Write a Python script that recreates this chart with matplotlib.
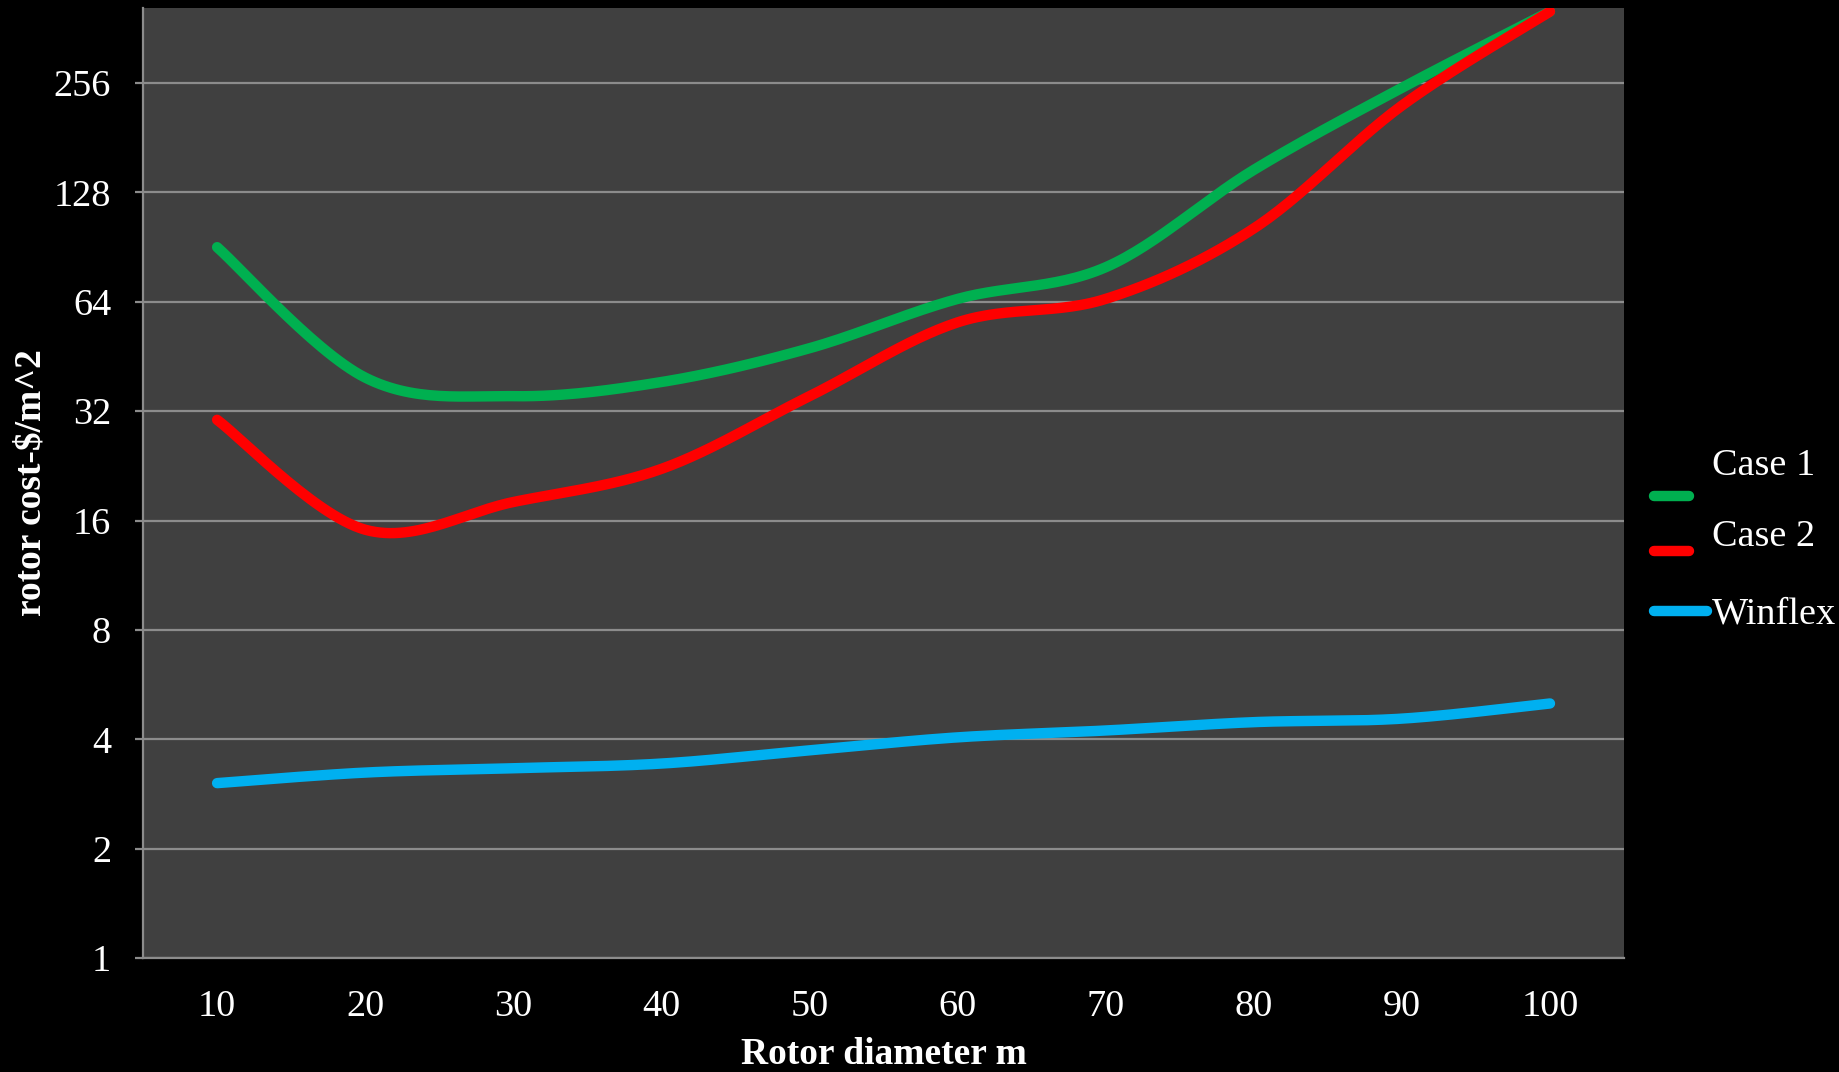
import numpy as np
import matplotlib
matplotlib.use("Agg")
import matplotlib.pyplot as plt
from matplotlib.lines import Line2D

# Rotor cost per swept area
diameters = [10, 20, 30, 40, 50, 60, 70, 80, 90, 100]
case1 = [90.5, 39.6, 35.2, 38.5, 47.7, 65.2, 79.7, 147.7, 248.5, 403.0]
case2 = [30.3, 15.1, 18.0, 22.2, 35.2, 56.2, 65.2, 101.9, 222.0, 403.0]
winflex = [3.03, 3.24, 3.33, 3.43, 3.73, 4.05, 4.23, 4.46, 4.56, 5.02]
y_ticks = [1, 2, 4, 8, 16, 32, 64, 128, 256]

series_names = ["Case 1", "Case 2", "Winflex"]
series_colors = ["#00B050", "#FF0000", "#00B0F0"]


def smooth(xs, ys, n=30):
    # Excel-style smoothed line: Catmull-Rom in (x, log2 y) space
    xs = np.asarray(xs, dtype=float)
    ly = np.log2(np.asarray(ys, dtype=float))
    px = np.concatenate([[xs[0]], xs, [xs[-1]]])
    py = np.concatenate([[ly[0]], ly, [ly[-1]]])
    out_x, out_y = [], []
    t = np.linspace(0, 1, n, endpoint=False)
    for i in range(1, len(px) - 2):
        x0, x1, x2, x3 = px[i - 1:i + 3]
        y0, y1, y2, y3 = py[i - 1:i + 3]
        # bezier control points
        cx1, cy1 = x1 + (x2 - x0) / 6, y1 + (y2 - y0) / 6
        cx2, cy2 = x2 - (x3 - x1) / 6, y2 - (y3 - y1) / 6
        bx = (1 - t) ** 3 * x1 + 3 * (1 - t) ** 2 * t * cx1 + 3 * (1 - t) * t ** 2 * cx2 + t ** 3 * x2
        by = (1 - t) ** 3 * y1 + 3 * (1 - t) ** 2 * t * cy1 + 3 * (1 - t) * t ** 2 * cy2 + t ** 3 * y2
        out_x.extend(bx)
        out_y.extend(by)
    out_x.append(xs[-1])
    out_y.append(ly[-1])
    return np.array(out_x), 2 ** np.array(out_y)


plt.rcParams["font.family"] = ["Liberation Serif", "DejaVu Serif"]

fig = plt.figure(figsize=(18.39, 10.72), dpi=100, facecolor="black")
ax = fig.add_axes([0.0778, 0.1063, 0.8053, 0.8862])
ax.set_facecolor("#404040")

x_idx = np.arange(1, len(diameters) + 1)
for vals, color in zip([case1, case2, winflex], series_colors):
    sx, sy = smooth(x_idx, vals)
    ax.plot(sx, sy, color=color, linewidth=7.5, solid_capstyle="round", zorder=3)

ax.set_yscale("log", base=2)
ax.set_ylim(1, 412)
ax.set_xlim(0.5, len(diameters) + 0.5)
ax.set_yticks(y_ticks)
ax.set_yticklabels([str(v) for v in y_ticks])
ax.yaxis.set_minor_locator(matplotlib.ticker.NullLocator())
ax.set_xticks(x_idx)
ax.set_xticklabels([str(d) for d in diameters])

ax.grid(axis="y", color="#8c8c8c", linewidth=1.6, zorder=1)
for side in ["top", "right"]:
    ax.spines[side].set_visible(False)
for side in ["left", "bottom"]:
    ax.spines[side].set_color("#8c8c8c")
    ax.spines[side].set_linewidth(1.6)

ax.tick_params(axis="y", colors="#8c8c8c", labelcolor="white", length=6,
               width=1.6, pad=17, labelsize=27.5)
ax.tick_params(axis="x", length=0, pad=23, labelcolor="white", labelsize=27.5)

ax.set_xlabel("Rotor diameter m", color="white", fontsize=27,
              fontweight="bold", labelpad=9)
ax.set_ylabel("rotor cost-$/m^2", color="white", fontsize=27,
              fontweight="bold", labelpad=4)

# legend drawn by hand to mimic the wrapped Excel legend
handle_y = [496, 551, 611]
text_y = [463, 534, 611]
handle_x2 = [1689, 1689, 1707]
H = 1072.0
W = 1839.0
for name, color, hy, ty, hx2 in zip(series_names, series_colors, handle_y, text_y, handle_x2):
    fig.add_artist(Line2D([1654 / W, hx2 / W], [1 - hy / H, 1 - hy / H],
                          color=color, linewidth=7.5, solid_capstyle="round"))
    fig.text(1712 / W, 1 - (ty + 3) / H, name, color="white", fontsize=27.5,
             va="center", ha="left")

fig.savefig("out.png", dpi=100, facecolor="black")
